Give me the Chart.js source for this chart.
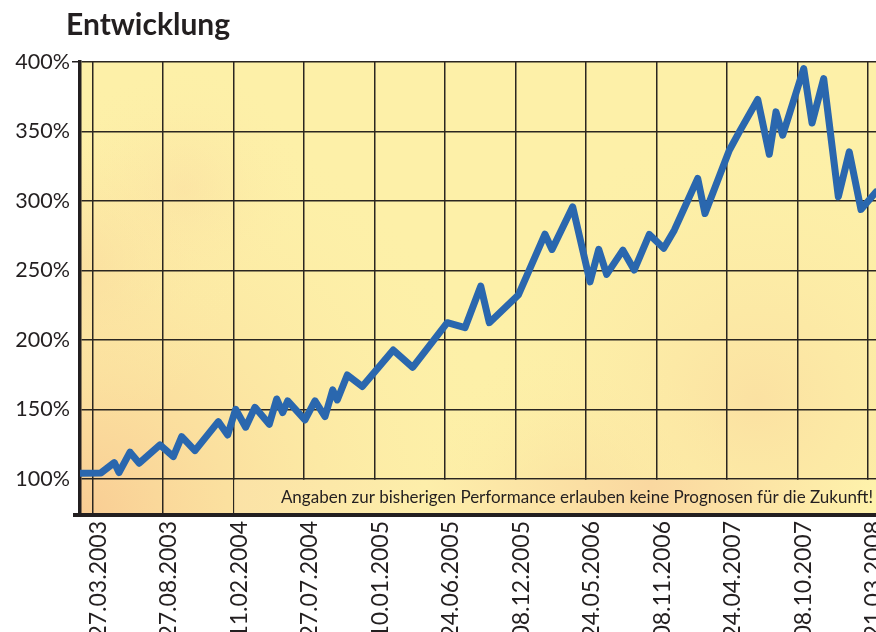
<!DOCTYPE html>
<html>
<head>
<meta charset="utf-8">
<script src="https://cdn.jsdelivr.net/npm/chart.js@4.4.1/dist/chart.umd.min.js"></script>
<style>
  body { margin: 0; background: #fff; }
  #wrap { position: relative; width: 876px; height: 632px; overflow: hidden; }
  #title { position: absolute; left: 66px; top: 5px; font: bold 30px Lato, sans-serif; color: #231f20; }
</style>
</head>
<body>
<div id="wrap">
  <div id="title">Entwicklung</div>
  <canvas id="perf" width="876" height="632"></canvas>
</div>
<script>
// tick labels on the x axis (evenly spaced)
const dates = ['27.03.2003', '27.08.2003', '11.02.2004', '27.07.2004', '10.01.2005', '24.06.2005',
  '08.12.2005', '24.05.2006', '08.11.2006', '24.04.2007', '08.10.2007', '21.03.2008'];

// position of each point, in units of the date ticks above
const pos = [-0.174, 0.123, 0.312, 0.379, 0.535, 0.666, 0.960, 1.149, 1.268, 1.456,
  1.787, 1.920, 2.033, 2.175, 2.307, 2.510, 2.615, 2.700, 2.771, 3.016,
  3.158, 3.300, 3.409, 3.474, 3.616, 3.829, 4.268, 4.543, 5.034, 5.285,
  5.508, 5.630, 6.041, 6.419, 6.519, 6.812, 7.058, 7.181, 7.294, 7.524,
  7.684, 7.899, 8.103, 8.253, 8.585, 8.688, 9.033, 9.175, 9.436, 9.600,
  9.695, 9.790, 10.088, 10.206, 10.371, 10.579, 10.734, 10.900, 11.113];

// performance in %
const perf = [104.1, 104.3, 111.7, 104.5, 119.2, 111.3, 124.4, 116.0, 130.4, 120.3,
  141.2, 131.6, 150.1, 137.2, 151.5, 139.3, 157.5, 147.7, 156.1, 142.4,
  156.1, 144.8, 164.0, 156.8, 174.8, 166.5, 192.7, 180.3, 212.4, 208.8,
  238.7, 212.4, 232.3, 276.1, 265.1, 295.8, 241.8, 265.2, 247.2, 264.6,
  250.3, 275.9, 265.9, 279.0, 316.2, 291.0, 336.5, 349.7, 373.0, 333.6,
  364.1, 347.3, 395.3, 356.1, 388.1, 303.0, 335.3, 293.9, 306.5];

const yTicks = [100, 150, 200, 250, 300, 350, 400];
const note = 'Angaben zur bisherigen Performance erlauben keine Prognosen für die Zukunft!';

const ink = '#231f20';

const backdrop = {
  id: 'backdrop',
  beforeDraw(chart) {
    const { ctx, chartArea: a } = chart;
    ctx.save();
    ctx.fillStyle = '#fdf0a8';
    ctx.fillRect(a.left, a.top, a.width, a.height);
    // soft orange patches
    const blobs = [
      [0.0, 1.0, 0.55, 'rgba(248,200,145,0.9)'],
      [0.13, 0.28, 0.16, 'rgba(250,214,160,0.4)'],
      [0.85, 0.75, 0.36, 'rgba(249,210,155,0.5)'],
      [0.62, 1.0, 0.22, 'rgba(249,212,155,0.55)'],
      [0.0, 0.45, 0.2, 'rgba(249,212,155,0.45)']
    ];
    blobs.forEach(([fx, fy, fr, col]) => {
      const cx = a.left + fx * a.width, cy = a.top + fy * a.height, r = fr * a.width;
      const g = ctx.createRadialGradient(cx, cy, 0, cx, cy, r);
      g.addColorStop(0, col);
      g.addColorStop(1, 'rgba(253,240,168,0)');
      ctx.fillStyle = g;
      ctx.fillRect(a.left, a.top, a.width, a.height);
    });
    ctx.restore();
  },
  beforeDatasetsDraw(chart) {
    const { ctx, chartArea: a, scales } = chart;
    const left = scales.x.getPixelForValue(2);
    const top = scales.y.getPixelForValue(100);
    ctx.save();
    const g = ctx.createLinearGradient(left, 0, a.right, 0);
    g.addColorStop(0, '#fbe2a6');
    g.addColorStop(0.3, '#fdeeaa');
    g.addColorStop(0.65, '#fad8a0');
    g.addColorStop(1, '#fef2ab');
    ctx.fillStyle = g;
    ctx.fillRect(left + 1, top + 1, a.right - left, a.bottom - top - 3);
    ctx.fillStyle = ink;
    ctx.font = '17px Lato, sans-serif';
    ctx.textAlign = 'right';
    ctx.textBaseline = 'middle';
    ctx.fillText(note, a.right - 3, (top + a.bottom) / 2 + 1);
    // bottom axis runs slightly past the y axis
    ctx.strokeStyle = ink;
    ctx.lineWidth = 4;
    ctx.beginPath();
    ctx.moveTo(a.left - 7, a.bottom);
    ctx.lineTo(a.left, a.bottom);
    ctx.stroke();
    ctx.restore();
  }
};

new Chart(document.getElementById('perf'), {
  type: 'line',
  data: {
    datasets: [{
      data: pos.map((x, i) => ({ x: x, y: perf[i] })),
      borderColor: '#2a67ae',
      borderWidth: 7,
      borderJoinStyle: 'round',
      borderCapStyle: 'round',
      pointRadius: 0,
      tension: 0
    }]
  },
  options: {
    responsive: false,
    animation: false,
    layout: { padding: { top: 62, left: 0, right: 0, bottom: 0 } },
    plugins: { legend: { display: false }, tooltip: { enabled: false } },
    scales: {
      x: {
        type: 'linear',
        min: -0.174,
        max: 11.113,
        afterBuildTicks: (s) => { s.ticks = dates.map((d, i) => ({ value: i })); },
        afterFit: (s) => { s.height = 117; s.paddingLeft = 0; s.paddingRight = 0; },
        grid: { color: '#2b2620', lineWidth: 1.5, drawTicks: false },
        border: { display: true, color: ink, width: 4 },
        ticks: {
          autoSkip: false,
          minRotation: 90,
          maxRotation: 90,
          padding: 6,
          labelOffset: 6,
          color: ink,
          font: { family: 'Lato', size: 23 },
          callback: (v) => dates[v]
        }
      },
      y: {
        min: 74,
        max: 400,
        afterBuildTicks: (s) => { s.ticks = yTicks.map(v => ({ value: v })); },
        afterFit: (s) => { s.width = 80; },
        grid: {
          color: '#2b2620',
          lineWidth: 1.5,
          tickLength: 8,
          tickColor: (c) => c.tick && c.tick.value === 400 ? ink : 'rgba(0,0,0,0)'
        },
        border: { display: true, color: ink, width: 3.5 },
        ticks: {
          padding: 2,
          color: ink,
          font: { family: 'Lato', size: 21.5 },
          callback: (v) => v + '%'
        }
      }
    }
  },
  plugins: [backdrop]
});
</script>
</body>
</html>
